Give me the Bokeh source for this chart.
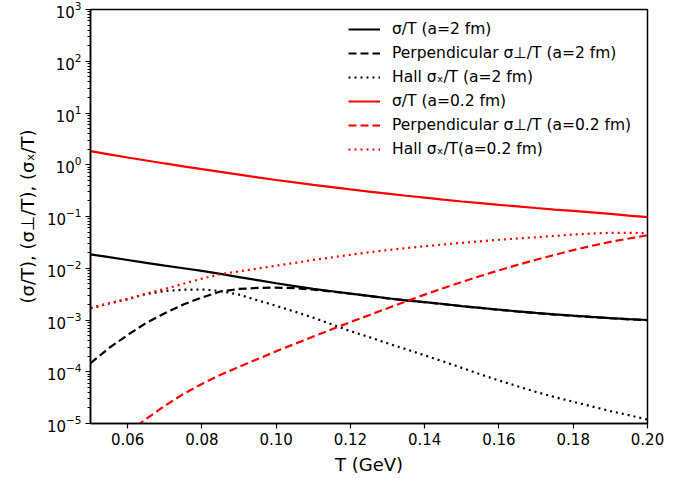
from bokeh.plotting import figure
from bokeh.models import (Range1d, FixedTicker, LogTickFormatter, NumeralTickFormatter,
                          Legend, LegendItem, ColumnDataSource)
from bokeh.embed import file_html
from bokeh.resources import INLINE

# Temperature grid (GeV)
T = [0.050, 0.055, 0.060, 0.065, 0.070, 0.075, 0.080, 0.085, 0.090, 0.095,
     0.100, 0.105, 0.110, 0.115, 0.120, 0.125, 0.130, 0.135, 0.140, 0.145,
     0.150, 0.155, 0.160, 0.165, 0.170, 0.175, 0.180, 0.185, 0.190, 0.195, 0.200]

# a = 2 fm
sigma_a2 = [0.0186, 0.0164, 0.01445, 0.01274, 0.01122, 0.0100, 0.00891, 0.00776, 0.00676, 0.00589,
            0.00513, 0.00452, 0.00398, 0.00359, 0.00324, 0.00292, 0.00263, 0.00240, 0.00221, 0.00204,
            0.00186, 0.00172, 0.00158, 0.001472, 0.001374, 0.001288, 0.001213, 0.001148, 0.001091,
            0.001042, 0.00100]
perp_a2 = [1.46e-4, 2.88e-4, 5.13e-4, 8.81e-4, 1.35e-3, 2.00e-3, 2.72e-3, 3.55e-3, 3.98e-3, 4.17e-3,
           4.22e-3, 4.12e-3, 3.85e-3, 3.55e-3, 3.22e-3, 2.90e-3, 2.62e-3, 2.39e-3, 2.20e-3, 2.03e-3,
           1.85e-3, 1.71e-3, 1.57e-3, 1.46e-3, 1.36e-3, 1.275e-3, 1.20e-3, 1.137e-3, 1.08e-3,
           1.032e-3, 0.99e-3]
hall_a2 = [1.70e-3, 2.09e-3, 2.54e-3, 3.16e-3, 3.63e-3, 3.85e-3, 3.89e-3, 3.63e-3, 3.09e-3, 2.40e-3,
           1.88e-3, 1.45e-3, 1.11e-3, 8.22e-4, 6.10e-4, 4.68e-4, 3.55e-4, 2.72e-4, 2.07e-4, 1.58e-4,
           1.19e-4, 8.91e-5, 6.76e-5, 5.25e-5, 4.07e-5, 3.24e-5, 2.63e-5, 2.14e-5, 1.74e-5, 1.45e-5, 1.19e-5]

# a = 0.2 fm
sigma_a02 = [1.83, 1.585, 1.38, 1.208, 1.059, 0.933, 0.822, 0.728, 0.646, 0.571,
             0.507, 0.455, 0.409, 0.370, 0.334, 0.303, 0.277, 0.252, 0.231, 0.212,
             0.195, 0.181, 0.168, 0.157, 0.146, 0.136, 0.128, 0.120, 0.112, 0.104, 0.097]
perp_a02 = [1.66e-6, 3.39e-6, 6.61e-6, 1.23e-5, 2.19e-5, 3.72e-5, 5.82e-5, 8.71e-5, 1.245e-4, 1.76e-4,
            2.48e-4, 3.45e-4, 4.79e-4, 6.61e-4, 9.08e-4, 1.24e-3, 1.69e-3, 2.29e-3, 3.09e-3, 4.12e-3,
            5.43e-3, 7.08e-3, 9.12e-3, 0.01161, 0.01462, 0.0182, 0.0224, 0.0272, 0.0324, 0.0376, 0.0432]
hall_a02 = [1.70e-3, 2.09e-3, 2.54e-3, 3.24e-3, 3.98e-3, 5.01e-3, 6.31e-3, 7.67e-3, 8.71e-3, 9.89e-3,
            0.0112, 0.0127, 0.0145, 0.0162, 0.0182, 0.0204, 0.0224, 0.0245, 0.0266, 0.0288,
            0.0309, 0.0331, 0.0355, 0.0376, 0.0398, 0.0422, 0.0447, 0.0468, 0.0484, 0.0484, 0.0476]

x_ticks = [0.06, 0.08, 0.10, 0.12, 0.14, 0.16, 0.18, 0.20]
y_exponents = [-5, -4, -3, -2, -1, 0, 1, 2, 3]

series = [
    ("σ/T (a=2 fm)", sigma_a2, "black", "solid"),
    ("Perpendicular σ⊥/T (a=2 fm)", perp_a2, "black", "8 4"),
    ("Hall σₓ/T (a=2 fm)", hall_a2, "black", "2 4"),
    ("σ/T (a=0.2 fm)", sigma_a02, "red", "solid"),
    ("Perpendicular σ⊥/T (a=0.2 fm)", perp_a02, "red", "8 4"),
    ("Hall σₓ/T(a=0.2 fm)", hall_a02, "red", "2 4"),
]

FONT = "DejaVu Sans"

p = figure(width=695, height=478, y_axis_type="log",
           x_range=Range1d(0.05, 0.20), y_range=Range1d(1e-5, 1e3),
           output_backend="svg", toolbar_location=None,
           min_border_left=90, min_border_right=48,
           min_border_top=9, min_border_bottom=55)

p.xgrid.visible = False
p.ygrid.visible = False
p.outline_line_color = "black"
p.outline_line_width = 1.5
p.background_fill_color = "white"
p.border_fill_color = "white"

items = []
for label, ys, color, dash in series:
    src = ColumnDataSource(dict(x=T, y=ys))
    r = p.line("x", "y", source=src, line_color=color, line_width=2.2, line_dash=dash)
    items.append(LegendItem(label=label, renderers=[r]))

# axes
p.xaxis.ticker = FixedTicker(ticks=x_ticks, minor_ticks=[])
p.xaxis.formatter = NumeralTickFormatter(format="0.00")
y_major = [10.0 ** e for e in y_exponents]
y_minor = [m * 10.0 ** e for e in y_exponents[:-1] for m in range(2, 10)]
p.yaxis.ticker = FixedTicker(ticks=y_major, minor_ticks=y_minor)
p.yaxis.formatter = LogTickFormatter()

p.xaxis.axis_label = "T (GeV)"
p.yaxis.axis_label = "(σ/T), (σ⊥/T), (σₓ/T)"

for ax in (p.xaxis[0], p.yaxis[0]):
    ax.axis_line_width = 1.5
    ax.axis_line_color = "black"
    ax.major_tick_line_color = "black"
    ax.minor_tick_line_color = "black"
    ax.major_tick_line_width = 1.2
    ax.minor_tick_line_width = 1
    ax.major_tick_out = 5
    ax.major_tick_in = 0
    ax.minor_tick_out = 3
    ax.minor_tick_in = 0
    ax.major_label_text_font = FONT
    ax.major_label_text_font_size = "15px"
    ax.major_label_text_color = "black"
    ax.axis_label_text_font = FONT
    ax.axis_label_text_font_size = "18px"
    ax.axis_label_text_font_style = "normal"
    ax.axis_label_text_color = "black"
    ax.major_label_standoff = 4
    ax.axis_label_standoff = 6

legend = Legend(items=items, location=(253, 259),
                label_text_font=FONT, label_text_font_size="15.5px",
                label_text_color="black",
                glyph_width=32, glyph_height=20, label_height=20,
                label_standoff=12, spacing=4, padding=5, margin=0,
                border_line_alpha=0, background_fill_alpha=0)
p.add_layout(legend)

open("out.html", "w").write(file_html(p, INLINE))
